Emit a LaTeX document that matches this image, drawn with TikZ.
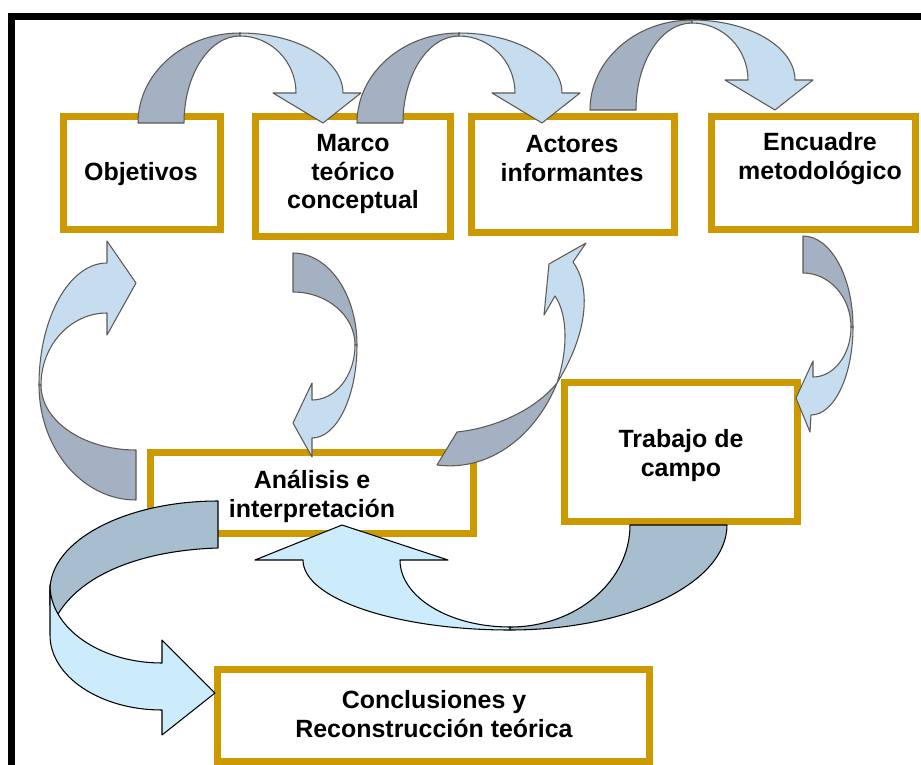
\documentclass[tikz,border=0pt]{standalone}
\usepackage{fontspec}
\setmainfont{Liberation Sans}
\usetikzlibrary{fit}

\definecolor{gold}{RGB}{204,153,0}
\definecolor{backgray}{RGB}{163,177,194}
\definecolor{frontblue}{RGB}{198,220,239}
\definecolor{edgegray}{RGB}{94,89,83}
\definecolor{backsteel}{RGB}{166,190,206}
\definecolor{frontcyan}{RGB}{204,236,252}

\begin{document}
\begin{tikzpicture}[x=0.02cm, y=-0.02cm,
  box/.style={draw=gold, line width=0.14cm, inner sep=0pt},
  txt/.style={font=\fontsize{14.2}{16.5}\selectfont\bfseries, align=center, inner sep=0pt},
  back/.style={fill=backgray, draw=edgegray, line width=0.6pt, line join=round},
  front/.style={fill=frontblue, draw=edgegray, line width=0.6pt, line join=round},
  backb/.style={fill=backsteel, draw=black, line width=0.6pt, line join=round},
  frontb/.style={fill=frontcyan, draw=black, line width=0.6pt, line join=round}]

\useasboundingbox (0,0) rectangle (921,765);
\clip (0,0) rectangle (921,765);
\fill[white] (0,0) rectangle (921,765);

\draw[line width=0.14cm] (11.5,800) -- (11.5,16.5) -- (950,16.5);

\node[box, fit={(63.5,116.5) (220.5,229.5)}] (obj) {};
\node[box, fit={(255.5,116.5) (450.5,236.5)}] (marco) {};
\node[box, fit={(471.5,116.5) (674.5,232.5)}] (actores) {};
\node[box, fit={(711.5,116.5) (915.5,229.5)}] (encuadre) {};
\node[box, fit={(150.5,452.5) (473.5,533.5)}] (analisis) {};
\node[box, fit={(564.5,382.5) (797.5,521.5)}] (trabajo) {};
\node[box, fit={(217.5,669.5) (649.5,761.5)}] (concl) {};

\node[txt] (objt) at (141,174) {Objetivos};
\node[txt] (marcot) at (353,174) {Marco\\teórico\\conceptual};
\node[txt] (actorest) at (572,159) {Actores\\informantes};
\node[txt] (encuadret) at (820,159) {Encuadre\\metodológico};
\node[txt] (analisist) at (312,496) {Análisis e\\interpretación};
\node[txt] (trabajot) at (681,456) {Trabajo de\\campo};
\node[txt] (conclt) at (434,714) {Conclusiones y\\Reconstrucción teórica};

\foreach \dx/\dy in {0/0, 219/0, 452/-13}{
\begin{scope}[shift={(\dx,\dy)}]
\draw[back] (138,123) arc[start angle=180, end angle=270, x radius=102, y radius=90] -- (240,36) arc[start angle=270, end angle=180, x radius=56, y radius=87] -- cycle;
\draw[front] (240,33) arc[start angle=270, end angle=360, x radius=103, y radius=60] -- (361,93) -- (323,123) -- (273,93) -- (296,93) arc[start angle=0, end angle=-90, x radius=56, y radius=57] -- cycle;
\end{scope}
}

\draw[back] (39,385) arc[start angle=180, end angle=90, x radius=97, y radius=115] -- (136,450) arc[start angle=90, end angle=180, x radius=95, y radius=65] -- cycle;
\draw[front] (39,385) arc[start angle=180, end angle=270, x radius=68, y radius=122] -- (107,241) -- (136,283) -- (107,335) -- (107,313) arc[start angle=270, end angle=180, x radius=66, y radius=72] -- cycle;

\draw[back] (293,253) arc[start angle=270, end angle=360, x radius=64, y radius=92] -- (355,345) arc[start angle=0, end angle=-90, x radius=62, y radius=53] -- cycle;
\draw[front] (357,345) arc[start angle=0, end angle=90, x radius=45, y radius=93] -- (312,457) -- (293,423) -- (312,383) -- (312,400) arc[start angle=90, end angle=0, x radius=43, y radius=55] -- cycle;

\draw[back] (803,236) arc[start angle=270, end angle=360, x radius=50, y radius=91] -- (851,327) arc[start angle=0, end angle=-90, x radius=48, y radius=54] -- cycle;
\draw[front] (853,327) arc[start angle=0, end angle=90, x radius=42, y radius=88] -- (810,432) -- (796,398) -- (813,361) -- (813,377) arc[start angle=90, end angle=0, x radius=38, y radius=50] -- cycle;

\draw[back] (437,465) -- (457,432) .. controls (495,428) and (535,410) .. (557,383) .. controls (537,433) and (492,472) .. (437,465) -- cycle;
\draw[front] (557,383) .. controls (590,330) and (590,285) .. (573,262) -- (586,243) -- (549,264) -- (544,315) -- (555,296) .. controls (568,315) and (568,350) .. (557,383) -- cycle;

\draw[backb] (727,525) arc[start angle=0, end angle=90, x radius=217, y radius=105] -- (510,627) arc[start angle=90, end angle=0, x radius=120, y radius=102] -- cycle;
\draw[frontb] (510,630) arc[start angle=90, end angle=180, x radius=207, y radius=70] -- (255,560) -- (342,525) -- (448,560) -- (400,560) arc[start angle=180, end angle=90, x radius=110, y radius=67] -- cycle;

\draw[backb] (218,501) arc[start angle=270, end angle=180, x radius=168, y radius=89] -- (50,605) -- (58,614) .. controls (85,570) and (150,550) .. (218,548) -- cycle;
\draw[frontb] (50,585) -- (50,635) arc[start angle=180, end angle=90, x radius=112, y radius=75] -- (162,735) -- (215,693) -- (162,640) -- (162,663) arc[start angle=90, end angle=180, x radius=112, y radius=78] -- cycle;

\end{tikzpicture}
\end{document}
